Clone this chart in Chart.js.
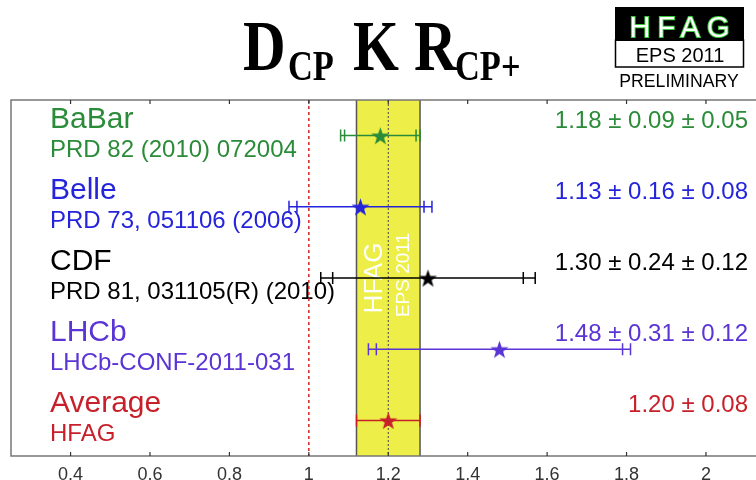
<!DOCTYPE html>
<html>
<head>
<meta charset="utf-8">
<script src="https://cdn.jsdelivr.net/npm/chart.js@4.4.1/dist/chart.umd.min.js"></script>
<style>
  html, body { margin: 0; padding: 0; background: #fff; }
</style>
</head>
<body>
<canvas id="chart" width="756" height="480"></canvas>
<script>
// measurements, top to bottom
const experiments = ["BaBar", "Belle", "CDF", "LHCb", "Average"];
const references = ["PRD 82 (2010) 072004", "PRD 73, 051106 (2006)", "PRD 81, 031105(R) (2010)", "LHCb-CONF-2011-031", "HFAG"];
const central = [1.18, 1.13, 1.30, 1.48, 1.20];
const statErr = [0.09, 0.16, 0.24, 0.31, 0.08];
const totalErr = [0.10, 0.18, 0.27, 0.33, 0.08];
const valueLabels = ["1.18 ± 0.09 ± 0.05", "1.13 ± 0.16 ± 0.08", "1.30 ± 0.24 ± 0.12", "1.48 ± 0.31 ± 0.12", "1.20 ± 0.08"];
const colors = ["#2a8c38", "#2424dc", "#000000", "#5a34d4", "#c8202a"];
const rows = [0.5, 1.5, 2.5, 3.5, 4.5];
const refLine = 1;
const avgIdx = 4;

const SANS = "'Liberation Sans', Arial, sans-serif";
const SERIF = "'Liberation Serif', 'Times New Roman', serif";

// filled five point star as point image
function makeStar(color, r) {
  const c = document.createElement("canvas");
  const s = Math.ceil(2 * r + 2);
  c.width = s; c.height = s;
  const g = c.getContext("2d");
  g.translate(s / 2, s / 2 + 1);
  g.beginPath();
  for (let k = 0; k < 10; k++) {
    const rad = k % 2 === 0 ? r : r * 0.4;
    const a = -Math.PI / 2 + k * Math.PI / 5;
    g.lineTo(rad * Math.cos(a), rad * Math.sin(a));
  }
  g.closePath();
  g.fillStyle = color;
  g.fill();
  return c;
}
const stars = colors.map(c => makeStar(c, 9.5));

const hfagPlot = {
  id: "hfagPlot",
  beforeDatasetsDraw(chart) {
    const ctx = chart.ctx;
    const xs = chart.scales.x, ys = chart.scales.y;
    const a = chart.chartArea;
    ctx.save();

    // row labels
    rows.forEach((r, i) => {
      const y = ys.getPixelForValue(r);
      ctx.fillStyle = colors[i];
      ctx.textBaseline = "alphabetic";
      ctx.textAlign = "left";
      ctx.font = "30px " + SANS;
      ctx.fillText(experiments[i], 50, y - 8);
      ctx.font = "24px " + SANS;
      ctx.fillText(references[i], 50, y + 21);
      ctx.textAlign = "right";
      ctx.font = "24px " + SANS;
      ctx.fillText(valueLabels[i], 748, y - 8);
    });

    // average band
    const bl = xs.getPixelForValue(central[avgIdx] - totalErr[avgIdx]);
    const br = xs.getPixelForValue(central[avgIdx] + totalErr[avgIdx]);
    ctx.fillStyle = "#eeee48";
    ctx.fillRect(bl, a.top, br - bl, a.bottom - a.top);
    ctx.strokeStyle = "#555";
    ctx.lineWidth = 1.5;
    ctx.beginPath();
    ctx.moveTo(bl, a.top); ctx.lineTo(bl, a.bottom);
    ctx.moveTo(br, a.top); ctx.lineTo(br, a.bottom);
    ctx.stroke();
    const bc = xs.getPixelForValue(central[avgIdx]);
    ctx.setLineDash([2, 2]);
    ctx.lineWidth = 1;
    ctx.strokeStyle = "#444";
    ctx.beginPath();
    ctx.moveTo(bc, a.top); ctx.lineTo(bc, a.bottom);
    ctx.stroke();

    // band watermark
    ctx.fillStyle = "#ffffff";
    ctx.textAlign = "center";
    ctx.textBaseline = "middle";
    ctx.save();
    ctx.translate(bl + 18, 278);
    ctx.rotate(-Math.PI / 2);
    ctx.font = "26px " + SANS;
    ctx.fillText("HFAG", 0, 0);
    ctx.restore();
    ctx.save();
    ctx.translate(bc + 16, 275);
    ctx.rotate(-Math.PI / 2);
    ctx.font = "19px " + SANS;
    ctx.fillText("EPS 2011", 0, 0);
    ctx.restore();

    // reference line at 1
    const x1 = xs.getPixelForValue(refLine);
    ctx.setLineDash([3, 3]);
    ctx.strokeStyle = "#e02020";
    ctx.lineWidth = 1.5;
    ctx.beginPath();
    ctx.moveTo(x1, a.top); ctx.lineTo(x1, a.bottom);
    ctx.stroke();
    ctx.setLineDash([]);

    // error bars with stat and total caps
    rows.forEach((r, i) => {
      const y = ys.getPixelForValue(r);
      const lo = xs.getPixelForValue(central[i] - totalErr[i]);
      const hi = xs.getPixelForValue(central[i] + totalErr[i]);
      const slo = xs.getPixelForValue(central[i] - statErr[i]);
      const shi = xs.getPixelForValue(central[i] + statErr[i]);
      ctx.strokeStyle = colors[i];
      ctx.lineWidth = 1.5;
      ctx.beginPath();
      ctx.moveTo(lo, y); ctx.lineTo(hi, y);
      [lo, hi, slo, shi].forEach(px => {
        ctx.moveTo(px, y - 6); ctx.lineTo(px, y + 6);
      });
      ctx.stroke();
    });
    ctx.restore();
  },
  afterDraw(chart) {
    const ctx = chart.ctx;
    const xs = chart.scales.x;
    const a = chart.chartArea;
    ctx.save();

    // frame: top, left, bottom
    ctx.strokeStyle = "#777";
    ctx.lineWidth = 1.5;
    ctx.beginPath();
    ctx.moveTo(chart.width, a.top); ctx.lineTo(a.left, a.top);
    ctx.lineTo(a.left, a.bottom); ctx.lineTo(chart.width, a.bottom);
    ctx.stroke();
    ctx.strokeStyle = "#333";
    ctx.lineWidth = 1.2;
    ctx.beginPath();
    xs.ticks.forEach(t => {
      const px = xs.getPixelForValue(t.value);
      ctx.moveTo(px, a.top); ctx.lineTo(px, a.top + 4);
      ctx.moveTo(px, a.bottom); ctx.lineTo(px, a.bottom - 4);
    });
    ctx.stroke();

    // title
    ctx.fillStyle = "#000";
    ctx.textBaseline = "alphabetic";
    ctx.textAlign = "left";
    const part = (txt, x, y, size) => {
      ctx.save();
      ctx.translate(x, y);
      ctx.scale(0.82, 1);
      ctx.font = "bold " + size + "px " + SERIF;
      ctx.fillText(txt, 0, 0);
      ctx.restore();
    };
    part("D", 243, 70, 72);
    part("CP", 288, 80, 42);
    part("K", 353, 70, 72);
    part("R", 414, 70, 72);
    part("CP+", 455, 80, 42);

    // HFAG logo
    ctx.fillStyle = "#000";
    ctx.fillRect(615, 7, 129, 34);
    ctx.strokeStyle = "#000";
    ctx.lineWidth = 1.5;
    ctx.strokeRect(615.5, 40, 128, 27);
    ctx.font = "29px " + SANS;
    ctx.textAlign = "center";
    ctx.letterSpacing = "7px";
    ctx.lineWidth = 2;
    ctx.strokeStyle = "#36c836";
    ctx.strokeText("HFAG", 683, 37);
    ctx.fillStyle = "#ffffff";
    ctx.fillText("HFAG", 683, 37);
    ctx.letterSpacing = "0px";
    ctx.fillStyle = "#000";
    ctx.font = "20px " + SANS;
    ctx.fillText("EPS 2011", 680, 62);
    ctx.save();
    ctx.translate(679, 87);
    ctx.scale(0.93, 1);
    ctx.font = "19px " + SANS;
    ctx.fillText("PRELIMINARY", 0, 0);
    ctx.restore();
    ctx.restore();
  }
};

new Chart(document.getElementById("chart"), {
  type: "scatter",
  data: {
    datasets: [{
      data: central.map((v, i) => ({ x: v, y: rows[i] })),
      pointStyle: c => stars[c.dataIndex],
      pointRadius: 10,
      pointHoverRadius: 10
    }]
  },
  options: {
    responsive: false,
    animation: false,
    devicePixelRatio: 1,
    layout: { autoPadding: false, padding: { top: 100, left: 11, right: 0, bottom: 0 } },
    plugins: { legend: { display: false }, tooltip: { enabled: false } },
    scales: {
      x: {
        type: "linear",
        min: 0.25,
        max: 2.126,
        grid: { display: false, drawTicks: false },
        border: { display: false },
        ticks: {
          stepSize: 0.2,
          includeBounds: false,
          autoSkip: false,
          maxRotation: 0,
          padding: 8,
          color: "#333",
          font: { family: SANS, size: 18 },
          callback: v => String(parseFloat(Number(v).toFixed(2)))
        },
        afterFit: s => { s.height = 24; s.paddingLeft = 0; s.paddingRight = 0; }
      },
      y: { display: false, min: 0, max: 5, reverse: true }
    }
  },
  plugins: [hfagPlot]
});
</script>
</body>
</html>
